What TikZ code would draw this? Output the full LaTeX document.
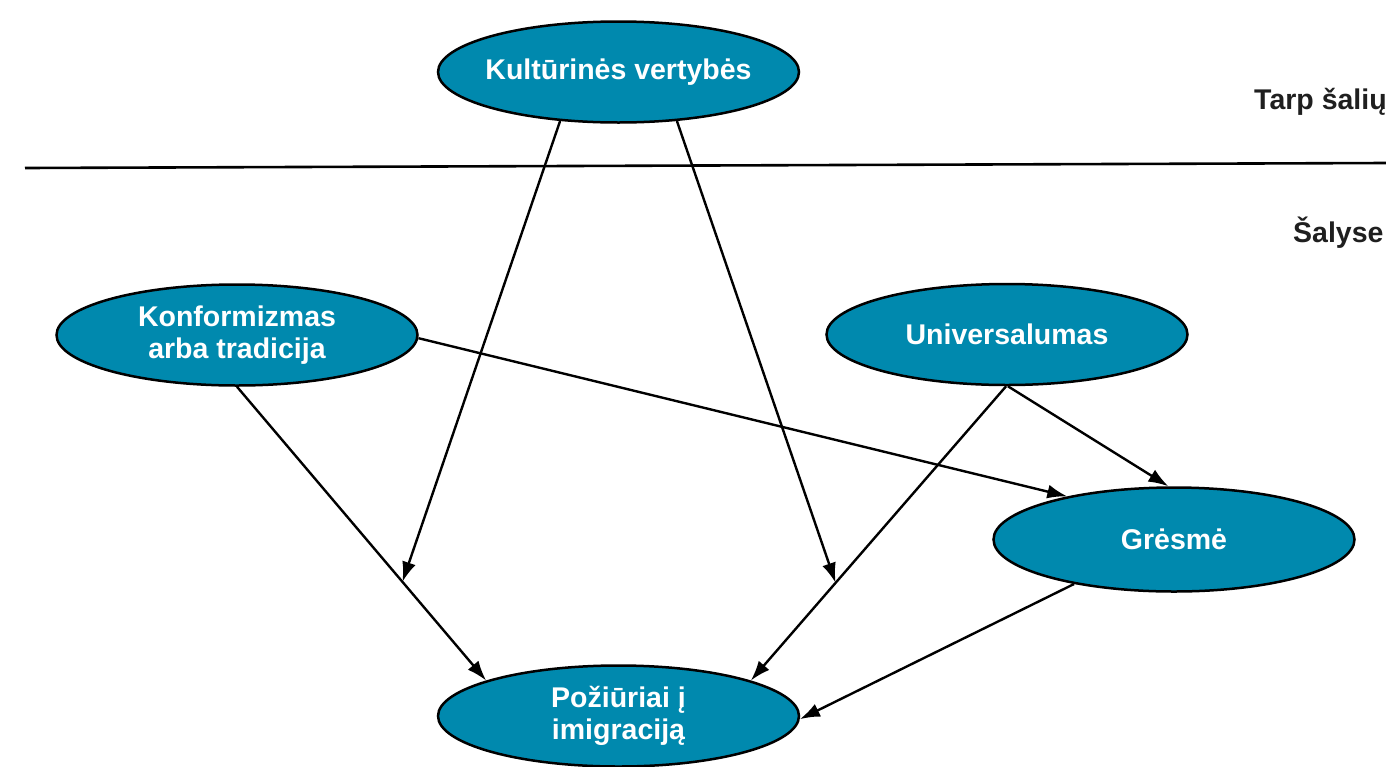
\documentclass[tikz,border=0pt]{standalone}
\usepackage{fontspec}
\setmainfont{Liberation Sans}
\usetikzlibrary{arrows.meta,shapes.geometric}
\definecolor{teal}{RGB}{0,137,174}
\tikzset{
  oval/.style={ellipse, draw=black, line width=2.5pt, fill=teal, text=white,
    minimum width=361pt, minimum height=101pt, inner xsep=-40pt, inner ysep=0pt, align=center,
    font=\bfseries\fontsize{28.5}{32}\selectfont},
  conn/.style={line width=2.4pt, -{Latex[length=20pt,width=14pt]}},
  side/.style={font=\bfseries\fontsize{28.5}{32}\selectfont, text=black!88, inner sep=0pt}
}
\begin{document}
\begin{tikzpicture}[x=1pt,y=-1pt]
\useasboundingbox (0,0) rectangle (1386,766);
\node[oval] (kult) at (618.5,72) {Kultūrinės vertybės};
\node[oval] (konf) at (237,335) {Konformizmas\\arba tradicija};
\node[oval] (univ) at (1007,334.5) {Universalumas};
\node[oval, minimum height=104pt] (gres) at (1174,539.5) {Grėsmė};
\node[oval] (poz) at (618.5,716) {Požiūriai į\\imigraciją};
\coordinate (ls) at (25,168);
\coordinate (le) at (1386,163);
\draw[line width=2.6pt] (ls) -- (le);
\node[side, anchor=base west] (tarp) at (1254,109) {Tarp šalių};
\node[side, anchor=base west] (saly) at (1293,242) {Šalyse};
\draw[conn] (konf.-90) -- (poz.165) coordinate[pos=0.664] (m1);
\draw[conn] (univ.-91) -- (poz.15) coordinate[pos=0.668] (m2);
\draw[conn] (kult.220) -- (m1);
\draw[conn] (kult.320) -- (m2);
\draw[conn] (konf.-1) -- (gres.158);
\draw[conn] (univ.-89) -- (gres.96);
\draw[conn] (gres.204) -- (poz.-1);
\end{tikzpicture}
\end{document}
